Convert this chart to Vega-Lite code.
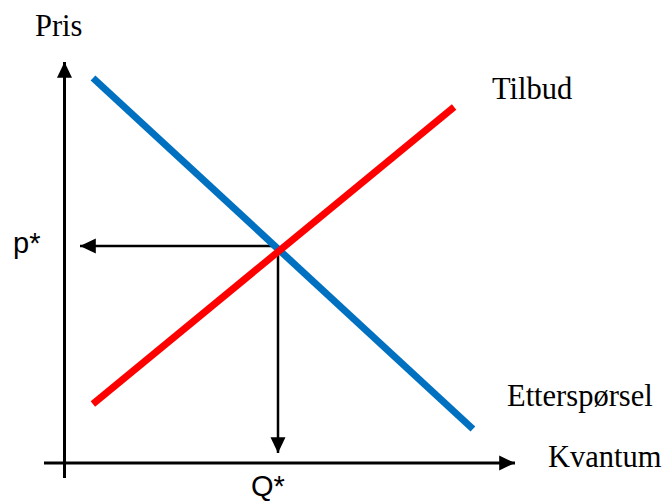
{
  "$schema": "https://vega.github.io/schema/vega-lite/v6.json",
  "width": 663,
  "height": 503,
  "padding": 0,
  "autosize": {"type": "none"},
  "background": "white",
  "config": {"view": {"stroke": null}},
  "datasets": {
    "axes": [
      {"akse": "Pris", "ord": 1, "x": 0, "y": -0.375},
      {"akse": "Pris", "ord": 2, "x": 0, "y": 10.025},
      {"akse": "Kvantum", "ord": 1, "x": -0.5125, "y": 0},
      {"akse": "Kvantum", "ord": 2, "x": 11.2625, "y": 0}
    ],
    "guides": [
      {"linje": "p*", "ord": 1, "x": 5.3375, "y": 5.425},
      {"linje": "p*", "ord": 2, "x": 0.3875, "y": 5.425},
      {"linje": "Q*", "ord": 1, "x": 5.3375, "y": 5.425},
      {"linje": "Q*", "ord": 2, "x": 5.3375, "y": 0.25}
    ],
    "curves": [
      {"serie": "Etterspørsel", "x": 0.7125, "y": 9.625},
      {"serie": "Etterspørsel", "x": 10.21, "y": 0.85},
      {"serie": "Tilbud", "x": 0.71, "y": 1.475},
      {"serie": "Tilbud", "x": 9.74, "y": 8.9}
    ],
    "heads": [
      {"retning": "opp", "x": 0, "y": 10.025},
      {"retning": "høyre", "x": 11.2625, "y": 0},
      {"retning": "venstre", "x": 0.3875, "y": 5.425},
      {"retning": "ned", "x": 5.3375, "y": 0.25}
    ],
    "labels": [
      {"tekst": "Pris", "stil": "serif", "x": -0.7375, "y": 10.675},
      {"tekst": "Tilbud", "stil": "serif", "x": 10.6875, "y": 9.1},
      {"tekst": "Etterspørsel", "stil": "serif", "x": 11.0625, "y": 1.425},
      {"tekst": "Kvantum", "stil": "serif", "x": 12.0875, "y": -0.1},
      {"tekst": "p*", "stil": "sans", "x": -1.2875, "y": 5.25},
      {"tekst": "Q*", "stil": "sans", "x": 4.6625, "y": -0.82}
    ]
  },
  "encoding": {
    "x": {"field": "x", "type": "quantitative", "scale": {"domain": [-1.6125, 14.9625], "nice": false, "zero": false}, "axis": null},
    "y": {"field": "y", "type": "quantitative", "scale": {"domain": [-1, 11.575], "nice": false, "zero": false}, "axis": null}
  },
  "layer": [
    {
      "data": {"name": "axes"},
      "mark": {"type": "line", "color": "black", "strokeWidth": 3, "strokeCap": "butt"},
      "encoding": {"detail": {"field": "akse"}, "order": {"field": "ord", "type": "quantitative"}}
    },
    {
      "data": {"name": "guides"},
      "mark": {"type": "line", "color": "black", "strokeWidth": 2.5, "strokeCap": "butt"},
      "encoding": {"detail": {"field": "linje"}, "order": {"field": "ord", "type": "quantitative"}}
    },
    {
      "data": {"name": "curves"},
      "mark": {"type": "line", "strokeWidth": 7, "strokeCap": "butt"},
      "encoding": {
        "color": {"field": "serie", "type": "nominal", "scale": {"domain": ["Etterspørsel", "Tilbud"], "range": ["#0070C0", "#FF0000"]}, "legend": null}
      }
    },
    {
      "data": {"name": "heads"},
      "transform": [{"filter": "datum.retning === 'opp'"}],
      "mark": {"type": "point", "filled": true, "color": "black", "opacity": 1, "size": 250, "shape": "M0,0L-0.95,2L0.95,2Z", "angle": 0},
      "encoding": {}
    },
    {
      "data": {"name": "heads"},
      "transform": [{"filter": "datum.retning === 'høyre'"}],
      "mark": {"type": "point", "filled": true, "color": "black", "opacity": 1, "size": 250, "shape": "M0,0L-0.95,2L0.95,2Z", "angle": 90},
      "encoding": {}
    },
    {
      "data": {"name": "heads"},
      "transform": [{"filter": "datum.retning === 'venstre'"}],
      "mark": {"type": "point", "filled": true, "color": "black", "opacity": 1, "size": 250, "shape": "M0,0L-0.95,2L0.95,2Z", "angle": 270},
      "encoding": {}
    },
    {
      "data": {"name": "heads"},
      "transform": [{"filter": "datum.retning === 'ned'"}],
      "mark": {"type": "point", "filled": true, "color": "black", "opacity": 1, "size": 250, "shape": "M0,0L-0.95,2L0.95,2Z", "angle": 180},
      "encoding": {}
    },
    {
      "data": {"name": "labels"},
      "transform": [{"filter": "datum.stil === 'serif'"}],
      "mark": {"type": "text", "font": "Liberation Serif", "fontSize": 30.5, "align": "left", "baseline": "alphabetic", "color": "black"},
      "encoding": {"text": {"field": "tekst"}}
    },
    {
      "data": {"name": "labels"},
      "transform": [{"filter": "datum.stil === 'sans'"}],
      "mark": {"type": "text", "font": "Liberation Sans", "fontSize": 29, "align": "left", "baseline": "alphabetic", "color": "black"},
      "encoding": {"text": {"field": "tekst"}}
    }
  ]
}
